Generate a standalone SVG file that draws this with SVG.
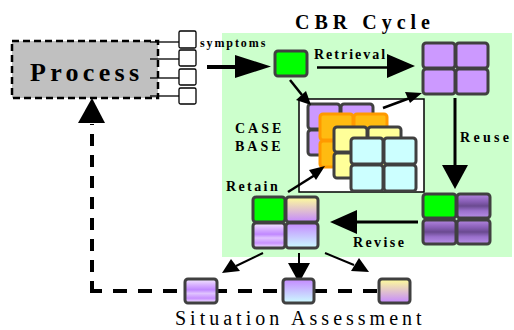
<svg xmlns="http://www.w3.org/2000/svg" width="514" height="330" viewBox="0 0 514 330">
<defs>
<style>
.cell{stroke:#404040;stroke-width:3;}
.ocell{stroke:#ff9900;stroke-width:3;fill:#ffbb11;}
.sm{fill:#fff;stroke:#000;stroke-width:1.3;}
.b{font-family:"Liberation Serif",serif;font-weight:bold;fill:#000;}
.ln{stroke:#000;fill:none;}
</style>
<linearGradient id="gPS" x1="0" y1="0" x2="0" y2="1">
<stop offset="0" stop-color="#f4eaff"/><stop offset="0.25" stop-color="#d8b0ff"/><stop offset="0.45" stop-color="#c088ff"/><stop offset="0.6" stop-color="#e0c4ff"/><stop offset="0.8" stop-color="#c890ff"/><stop offset="1" stop-color="#f4eaff"/>
</linearGradient>
<linearGradient id="gPC" x1="0" y1="0" x2="0" y2="1">
<stop offset="0" stop-color="#c488ff"/><stop offset="1" stop-color="#ccfcff"/>
</linearGradient>
<linearGradient id="gYP" x1="0" y1="0" x2="0" y2="1">
<stop offset="0" stop-color="#ffff99"/><stop offset="1" stop-color="#c488ff"/>
</linearGradient>
<linearGradient id="gDP" x1="0" y1="0" x2="0" y2="1">
<stop offset="0" stop-color="#b488e0"/><stop offset="0.3" stop-color="#8a60b8"/><stop offset="0.5" stop-color="#6a4a90"/><stop offset="0.7" stop-color="#9a70cc"/><stop offset="1" stop-color="#b890e8"/>
</linearGradient>
</defs>

<rect x="222" y="33" width="290" height="224" fill="#ccffcc"/>
<rect x="299" y="99" width="125" height="93" fill="#fff" stroke="#000" stroke-width="1.5"/>

<g id="process">
<rect x="12" y="41" width="146" height="57" fill="#c0c0c0" stroke="#000" stroke-width="2.5" stroke-dasharray="7,4"/>
<text x="30" y="81" class="b" font-size="26" letter-spacing="4.3">Process</text>
<g class="ln" stroke-width="1.3">
<line x1="150" y1="42" x2="179" y2="42"/>
<line x1="150" y1="59" x2="179" y2="59"/>
<line x1="150" y1="78" x2="179" y2="78"/>
<line x1="150" y1="96" x2="179" y2="96"/>
</g>
<rect class="sm" x="179" y="31" width="17" height="17" rx="1.5"/>
<rect class="sm" x="179" y="50" width="17" height="16" rx="1.5"/>
<rect class="sm" x="179" y="69" width="17" height="16" rx="1.5"/>
<rect class="sm" x="179" y="88" width="17" height="16" rx="1.5"/>
</g>

<text x="295" y="29" class="b" font-size="20" letter-spacing="5">CBR Cycle</text>
<text x="200" y="47" class="b" font-size="12" letter-spacing="1.9">symptoms</text>
<text x="314" y="59" class="b" font-size="14" letter-spacing="2">Retrieval</text>
<text x="460" y="142" class="b" font-size="14" letter-spacing="3.3">Reuse</text>
<text x="353" y="247" class="b" font-size="14" letter-spacing="2.4">Revise</text>
<text x="226" y="191" class="b" font-size="14" letter-spacing="2.4">Retain</text>
<text x="235" y="133" class="b" font-size="14" letter-spacing="3">CASE</text>
<text x="235" y="151" class="b" font-size="14" letter-spacing="3">BASE</text>
<text x="175" y="325" font-family="Liberation Serif, serif" font-size="20" letter-spacing="4">Situation Assessment</text>

<g id="new-case">
<rect class="cell" x="275" y="51" width="32" height="25" rx="3" fill="#00ff00"/>
</g>

<g id="retrieved-case">
<rect class="cell" x="423" y="43" width="32" height="25" rx="3" fill="#cc99ff"/>
<rect class="cell" x="456" y="43" width="32" height="25" rx="3" fill="#cc99ff"/>
<rect class="cell" x="423" y="69" width="32" height="25" rx="3" fill="#cc99ff"/>
<rect class="cell" x="456" y="69" width="32" height="25" rx="3" fill="#cc99ff"/>
</g>

<g id="case-base">
<rect class="cell" x="308" y="104" width="32" height="25" rx="3" fill="#cc99ff"/>
<rect class="cell" x="341" y="104" width="32" height="25" rx="3" fill="#cc99ff"/>
<rect class="cell" x="308" y="130" width="32" height="25" rx="3" fill="#cc99ff"/>
<rect class="cell" x="341" y="130" width="32" height="25" rx="3" fill="#cc99ff"/>
<rect class="ocell" x="320" y="114" width="33" height="26" rx="3"/>
<rect class="ocell" x="354" y="114" width="33" height="26" rx="3"/>
<rect class="ocell" x="320" y="141" width="33" height="26" rx="3"/>
<rect class="ocell" x="354" y="141" width="33" height="26" rx="3"/>
<rect class="cell" x="334" y="127" width="33" height="25" rx="3" fill="#ffff99"/>
<rect class="cell" x="368" y="127" width="33" height="25" rx="3" fill="#ffff99"/>
<rect class="cell" x="334" y="153" width="33" height="25" rx="3" fill="#ffff99"/>
<rect class="cell" x="368" y="153" width="33" height="25" rx="3" fill="#ffff99"/>
<rect class="cell" x="351" y="138" width="32" height="26" rx="3" fill="#ccffff"/>
<rect class="cell" x="384" y="138" width="32" height="26" rx="3" fill="#ccffff"/>
<rect class="cell" x="351" y="165" width="32" height="26" rx="3" fill="#ccffff"/>
<rect class="cell" x="384" y="165" width="32" height="26" rx="3" fill="#ccffff"/>
</g>

<g id="revised-case">
<rect class="cell" x="423" y="194" width="33" height="24" rx="3" fill="#00ff00"/>
<rect class="cell" x="457" y="194" width="33" height="24" rx="3" fill="url(#gDP)"/>
<rect class="cell" x="423" y="220" width="33" height="24" rx="3" fill="url(#gDP)"/>
<rect class="cell" x="457" y="220" width="33" height="24" rx="3" fill="url(#gDP)"/>
</g>

<g id="solved-case">
<rect class="cell" x="253" y="197" width="32" height="25" rx="3" fill="#00ff00"/>
<rect class="cell" x="286" y="197" width="32" height="25" rx="3" fill="url(#gYP)"/>
<rect class="cell" x="253" y="223" width="32" height="25" rx="3" fill="url(#gPS)"/>
<rect class="cell" x="286" y="223" width="32" height="25" rx="3" fill="url(#gPC)"/>
</g>

<g id="connectors">
<path class="ln" d="M92,293 V124" stroke-width="4" stroke-dasharray="12,9"/>
<path d="M78,123 L92,98 L105,123 Z" fill="#000"/>
<path class="ln" d="M92,291 H380" stroke-width="4" stroke-dasharray="14,11" stroke-dashoffset="4"/>
<line class="ln" x1="207" y1="67" x2="240" y2="67" stroke-width="4"/>
<path d="M235,55 L271,66.5 L235,78 Z" fill="#000"/>
<line class="ln" x1="317" y1="67.5" x2="390" y2="67.5" stroke-width="2.5"/>
<path d="M387,54 L415,66 L387,78 Z" fill="#000"/>
<line class="ln" x1="455" y1="98" x2="455" y2="167" stroke-width="3"/>
<path d="M442,165 L468,165 L455,189 Z" fill="#000"/>
<line class="ln" x1="418" y1="222" x2="355" y2="222" stroke-width="3"/>
<path d="M357,210 L357,234 L330,222 Z" fill="#000"/>
<line class="ln" x1="290" y1="80" x2="302" y2="95" stroke-width="2.5"/>
<path d="M296,100 L306,91 L311,105 Z" fill="#000"/>
<line class="ln" x1="383" y1="108" x2="410" y2="98" stroke-width="2.5"/>
<path d="M405,92 L422,93 L410,103 Z" fill="#000"/>
<line class="ln" x1="288" y1="192" x2="315" y2="175" stroke-width="2.5"/>
<path d="M309,170 L325,166 L316,180 Z" fill="#000"/>
<line class="ln" x1="263" y1="253" x2="236" y2="266" stroke-width="2"/>
<path d="M231,259 L222,273 L240,271 Z" fill="#000"/>
<line class="ln" x1="299" y1="253" x2="299" y2="266" stroke-width="2"/>
<path d="M288,263 L310,263 L299,283 Z" fill="#000"/>
<line class="ln" x1="325" y1="253" x2="354" y2="265" stroke-width="2"/>
<path d="M351,271 L369,272 L359,258 Z" fill="#000"/>
</g>

<g id="assess-1"><rect class="cell" x="185" y="279" width="32" height="24" rx="3" fill="url(#gPS)"/></g>
<g id="assess-2"><rect class="cell" x="283" y="279" width="31" height="24" rx="3" fill="url(#gPC)"/></g>
<g id="assess-3"><rect class="cell" x="379" y="279" width="31" height="24" rx="3" fill="url(#gYP)"/></g>
</svg>
